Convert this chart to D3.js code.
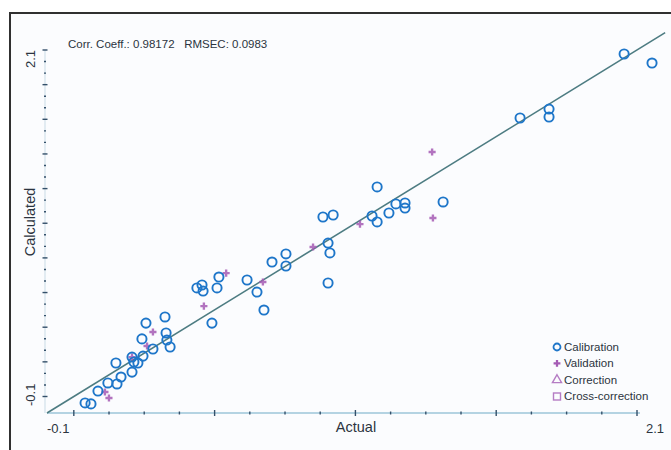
<!DOCTYPE html>
<html>
<head>
<meta charset="utf-8">
<script src="https://cdn.jsdelivr.net/npm/d3@7"></script>
<style>
  body { margin: 0; background: #fff; }
  text { font-family: "Liberation Sans", Arial, sans-serif; fill: #2b3440; white-space: pre; }
</style>
</head>
<body>
<div id="chart"></div>
<script>
// calibration samples: [actual, calculated]
var calActual = [0.042, 0.064, 0.090, 0.127, 0.161, 0.176, 0.157, 0.217, 0.217, 0.224, 0.239, 0.258, 0.254, 0.269, 0.295,
                 0.340, 0.344, 0.347, 0.359, 0.459, 0.478, 0.482, 0.541, 0.534, 0.515, 0.646, 0.683, 0.709, 0.739, 0.791,
                 0.791, 0.948, 0.955, 0.948, 0.929, 0.967, 1.131, 1.112, 1.131, 1.175, 1.201, 1.235, 1.235, 1.377, 1.664,
                 1.772, 1.772, 2.052, 2.156];
var calCalc   = [-0.039, -0.045, 0.033, 0.082, 0.076, 0.118, 0.203, 0.148, 0.239, 0.209, 0.203, 0.245, 0.349, 0.445, 0.288,
                 0.482, 0.385, 0.342, 0.300, 0.658, 0.676, 0.639, 0.724, 0.658, 0.445, 0.706, 0.633, 0.524, 0.815, 0.864,
                 0.791, 0.930, 0.870, 0.688, 1.088, 1.100, 1.270, 1.094, 1.058, 1.112, 1.167, 1.173, 1.142, 1.179, 1.688,
                 1.742, 1.694, 2.076, 2.021];
// validation samples
var valActual = [0.131, 0.116, 0.295, 0.273, 0.217, 0.568, 0.485, 0.705, 0.892, 1.067, 1.336, 1.339];
var valCalc   = [-0.009, 0.027, 0.391, 0.306, 0.239, 0.748, 0.548, 0.694, 0.906, 1.045, 1.482, 1.082];

var xMajor = [0, 0.525, 1.05, 1.575, 2.1];
var yMajor = [0, 0.21, 0.42, 0.63, 0.84, 1.05, 1.26, 1.47, 1.68, 1.89, 2.1];
var axisMin = -0.1, axisMax = 2.1, lineEnd = 2.205;
var statsText = "Corr. Coeff.: 0.98172   RMSEC: 0.0983";
var legendItems = ["Calibration", "Validation", "Correction", "Cross-correction"];

var width = 671, height = 450;
var svg = d3.select("#chart").append("svg")
    .attr("width", width).attr("height", height);

// panel + frame
svg.append("rect").attr("x", 11).attr("y", 14).attr("width", width - 11).attr("height", height - 14)
    .attr("fill", "#fbfcfe");
svg.append("path").attr("d", `M10,${height} V13 H${width}`)
    .attr("fill", "none").attr("stroke", "#303030").attr("stroke-width", 2);

var x = d3.scaleLinear().domain([axisMin, axisMax]).range([47, 637]);
var y = d3.scaleLinear().domain([axisMin, axisMax]).range([413, 50]);

// x axis
var xMinor = [];
for (var i = 0; i < xMajor.length - 1; i++) {
    var step = (xMajor[i + 1] - xMajor[i]) / 4;
    for (var k = 1; k < 4; k++) xMinor.push(xMajor[i] + k * step);
}
svg.append("line").attr("x1", x(axisMin)).attr("x2", x(axisMax) + 3)
    .attr("y1", y(axisMin)).attr("y2", y(axisMin))
    .attr("stroke", "#9cc6d8").attr("stroke-width", 1.6);
var xAxisG = svg.append("g").attr("transform", `translate(0,${y(axisMin)})`);
xAxisG.selectAll(".maj").data(xMajor).enter().append("line")
    .attr("x1", d => x(d)).attr("x2", d => x(d)).attr("y1", -3).attr("y2", 3)
    .attr("stroke", "#34506a").attr("stroke-width", 1.4);
xAxisG.selectAll(".min").data(xMinor).enter().append("line")
    .attr("x1", d => x(d)).attr("x2", d => x(d)).attr("y1", -1.5).attr("y2", 1.5)
    .attr("stroke", "#34506a").attr("stroke-width", 1.4);

// y axis
var yMinor = [];
for (var i = 0; i < yMajor.length - 1; i++) {
    var step = (yMajor[i + 1] - yMajor[i]) / 3;
    for (var k = 1; k < 3; k++) yMinor.push(yMajor[i] + k * step);
}
var yAxisX = x(axisMin) - 2;
svg.append("line").attr("x1", yAxisX).attr("x2", yAxisX)
    .attr("y1", y(axisMin)).attr("y2", y(axisMax))
    .attr("stroke", "#c9dbe6").attr("stroke-width", 1);
var yAxisG = svg.append("g").attr("transform", `translate(${yAxisX},0)`);
yAxisG.selectAll(".maj").data(yMajor).enter().append("line")
    .attr("y1", d => y(d)).attr("y2", d => y(d)).attr("x1", -2.5).attr("x2", 2.5)
    .attr("stroke", "#34506a").attr("stroke-width", 1.4);
yAxisG.selectAll(".min").data(yMinor).enter().append("line")
    .attr("y1", d => y(d)).attr("y2", d => y(d)).attr("x1", -1).attr("x2", 1)
    .attr("stroke", "#34506a").attr("stroke-width", 1.4);

// end labels
svg.append("text").attr("x", x(axisMin)).attr("y", 433).attr("font-size", 13).text("-0.1");
svg.append("text").attr("x", x(axisMax) + 9).attr("y", 433).attr("font-size", 13).text("2.1");
svg.append("text").attr("transform", `translate(35,${y(axisMin) - 7}) rotate(-90)`)
    .attr("font-size", 13).text("-0.1");
svg.append("text").attr("transform", `translate(35,${y(axisMax)}) rotate(-90)`)
    .attr("font-size", 13).attr("text-anchor", "end").text("2.1");

// axis titles
svg.append("text").attr("x", 356).attr("y", 432).attr("text-anchor", "middle")
    .attr("font-size", 14.5).text("Actual");
svg.append("text").attr("transform", "translate(35,222) rotate(-90)").attr("text-anchor", "middle")
    .attr("font-size", 14.5).text("Calculated");

// stats
svg.append("text").attr("x", 68).attr("y", 48).attr("font-size", 11.5).text(statsText);

// y = x line
svg.append("line").attr("x1", x(axisMin)).attr("y1", y(axisMin))
    .attr("x2", x(lineEnd)).attr("y2", y(lineEnd))
    .attr("stroke", "#4d7c82").attr("stroke-width", 1.6);

// validation marks
var valData = valActual.map((d, i) => [d, valCalc[i]]);
svg.append("g").selectAll("path").data(valData).enter().append("path")
    .attr("transform", d => `translate(${x(d[0])},${y(d[1])})`)
    .attr("d", d3.symbol().type(d3.symbolCross).size(28))
    .attr("fill", "#a45bb4").attr("opacity", 0.85);

// calibration marks
var calData = calActual.map((d, i) => [d, calCalc[i]]);
svg.append("g").selectAll("circle").data(calData).enter().append("circle")
    .attr("cx", d => x(d[0])).attr("cy", d => y(d[1])).attr("r", 4.6)
    .attr("fill", "none").attr("stroke", "#1e76c9").attr("stroke-width", 1.9);

// legend
var legend = svg.append("g").attr("transform", "translate(557,347)");
var rows = legend.selectAll("g").data(legendItems).enter().append("g")
    .attr("transform", (d, i) => `translate(0,${i * 16.3})`);
rows.append("text").attr("x", 7).attr("y", 4).attr("font-size", 11.5).attr("fill", "#34404c").text(d => d);
legend.append("circle").attr("r", 3.5).attr("fill", "none").attr("stroke", "#1e76c9").attr("stroke-width", 1.8);
legend.append("path").attr("transform", "translate(0,16.3)")
    .attr("d", d3.symbol().type(d3.symbolCross).size(26)).attr("fill", "#a45bb4");
legend.append("path").attr("transform", "translate(0,33)")
    .attr("d", d3.symbol().type(d3.symbolTriangle).size(36))
    .attr("fill", "none").attr("stroke", "#b57cc4").attr("stroke-width", 1.4);
legend.append("rect").attr("x", -3.5).attr("y", 49.5 - 3.5).attr("width", 7).attr("height", 7)
    .attr("fill", "none").attr("stroke", "#b57cc4").attr("stroke-width", 1.4);
</script>
</body>
</html>
